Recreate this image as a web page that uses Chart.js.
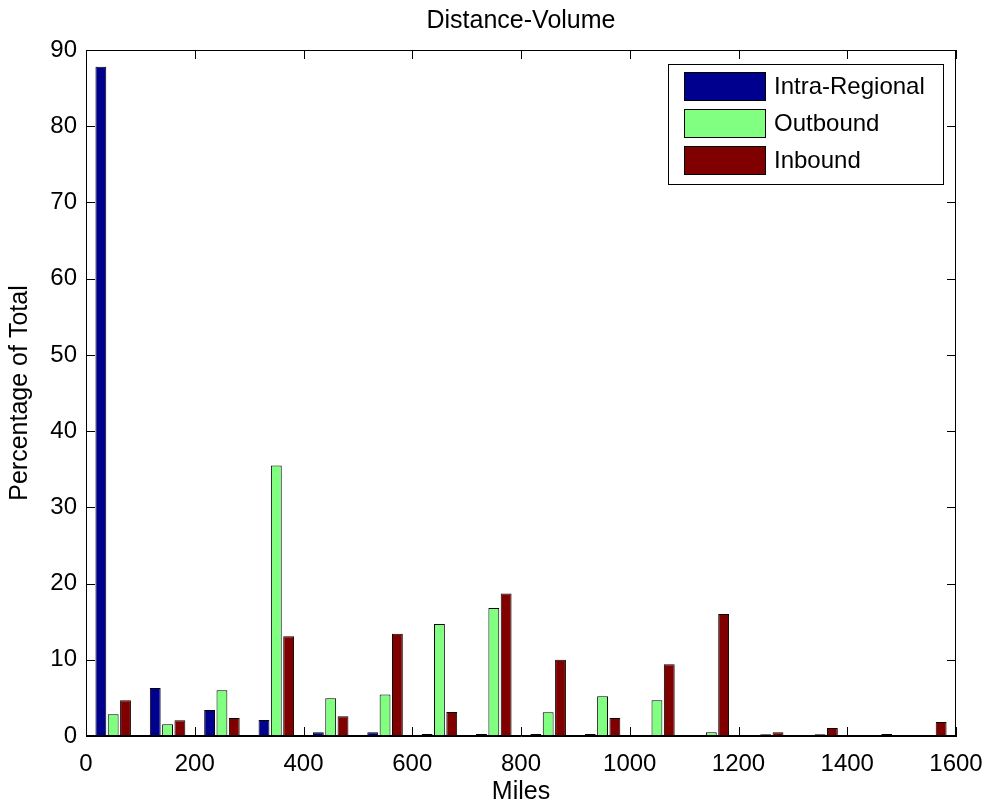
<!DOCTYPE html>
<html>
<head>
<meta charset="utf-8">
<title>Distance-Volume</title>
<script src="https://cdn.jsdelivr.net/npm/chart.js@4.4.0/dist/chart.umd.min.js"></script>
<style>
    html, body { margin: 0; padding: 0; background: #fff; }
    #wrap { width: 985px; height: 807px; }
</style>
</head>
<body>
<div id="wrap"><canvas id="chart" width="985" height="807"></canvas></div>
<script>
// bin centres in miles
const binCenters = [50, 150, 250, 350, 450, 550, 650, 750, 850, 950, 1050, 1150, 1250, 1350, 1450, 1550];

// percentage of total per bin
const intraRegional = [87.8, 6.3, 3.4, 2.1, 0.5, 0.5, 0.26, 0.26, 0.26, 0.26, 0, 0, 0, 0, 0, 0];
const outbound = [2.85, 1.55, 6.0, 35.5, 4.95, 5.45, 14.7, 16.8, 3.1, 5.2, 4.7, 0.5, 0.22, 0.22, 0, 0];
const inbound = [4.7, 2.05, 2.35, 13.1, 2.6, 13.4, 3.15, 18.7, 10.0, 2.35, 9.4, 16.0, 0.5, 1.05, 0.26, 1.85];

const xTicks = [0, 200, 400, 600, 800, 1000, 1200, 1400, 1600];
const yTicks = [0, 10, 20, 30, 40, 50, 60, 70, 80, 90];

const seriesNames = ['Intra-Regional', 'Outbound', 'Inbound'];
const seriesColors = ['#00008f', '#80ff80', '#800000'];

const FONT = "'Liberation Sans', Arial, Helvetica, sans-serif";
const tickLen = 9;

function toPoints(values) {
    return values.map((v, i) => ({ x: binCenters[i], y: v }));
}

// box around the axes, inward ticks on all four sides, and the legend
const matlabAxes = {
    id: 'matlabAxes',
    afterDatasetsDraw(chart) {
        const { ctx, chartArea: a, scales: { x, y } } = chart;
        ctx.save();
        ctx.strokeStyle = '#000';
        ctx.lineWidth = 1;
        ctx.beginPath();
        xTicks.forEach(v => {
            const px = Math.round(x.getPixelForValue(v)) + 0.5;
            ctx.moveTo(px, a.bottom);
            ctx.lineTo(px, a.bottom - tickLen);
            ctx.moveTo(px, a.top);
            ctx.lineTo(px, a.top + tickLen);
        });
        yTicks.forEach(v => {
            const py = Math.round(y.getPixelForValue(v)) + 0.5;
            ctx.moveTo(a.left, py);
            ctx.lineTo(a.left + tickLen, py);
            ctx.moveTo(a.right, py);
            ctx.lineTo(a.right - tickLen, py);
        });
        ctx.stroke();
        ctx.strokeRect(Math.round(a.left) + 0.5, Math.round(a.top) + 0.5,
            Math.round(a.width) - 1, Math.round(a.height) - 1);

        // legend
        const bx = a.right - 288, by = a.top + 14, bw = 275, bh = 120;
        ctx.fillStyle = '#fff';
        ctx.fillRect(bx, by, bw, bh);
        ctx.strokeRect(bx + 0.5, by + 0.5, bw, bh);
        ctx.font = '24px ' + FONT;
        ctx.textBaseline = 'middle';
        ctx.textAlign = 'left';
        chart.data.datasets.forEach((ds, i) => {
            const sy = by + 8 + i * 37;
            ctx.fillStyle = ds.backgroundColor;
            ctx.fillRect(bx + 16, sy, 81, 28);
            ctx.strokeRect(bx + 16.5, sy + 0.5, 81, 28);
            ctx.fillStyle = '#000';
            ctx.fillText(ds.label, bx + 106, sy + 15);
        });
        ctx.restore();
    }
};

const ctx = document.getElementById('chart').getContext('2d');
const datasets = [intraRegional, outbound, inbound].map((values, index) => ({
    label: seriesNames[index],
    data: toPoints(values),
    backgroundColor: seriesColors[index],
    borderColor: '#000',
    borderWidth: 1,
    borderSkipped: false,
    categoryPercentage: 0.68,
    barPercentage: 0.88
}));

const chart = new Chart(ctx, {
    type: 'bar',
    data: { datasets: datasets },
    options: {
        responsive: false,
        animation: false,
        events: [],
        layout: { padding: { left: 0, right: 29, top: 0, bottom: 0 } },
        plugins: {
            legend: { display: false },
            tooltip: { enabled: false },
            title: {
                display: true,
                fullSize: false,
                text: 'Distance-Volume',
                color: '#000',
                font: { family: FONT, size: 25, weight: 'normal', lineHeight: 1.2 },
                padding: { top: 6, bottom: 14 }
            }
        },
        scales: {
            x: {
                type: 'linear',
                min: 0,
                max: 1600,
                offset: false,
                afterBuildTicks: scale => { scale.ticks = xTicks.map(v => ({ value: v })); },
                afterFit: scale => {
                    scale.height = 71;
                    scale.paddingLeft = 0;
                    scale.paddingRight = 0;
                },
                grid: { display: false, drawTicks: false },
                border: { display: true, color: '#000', width: 1 },
                ticks: {
                    color: '#000',
                    padding: 14,
                    maxRotation: 0,
                    font: { family: FONT, size: 24 },
                    callback: v => String(v)
                },
                title: {
                    display: true,
                    text: 'Miles',
                    color: '#000',
                    font: { family: FONT, size: 25, lineHeight: 1.2 },
                    padding: { top: 0, bottom: 0 }
                }
            },
            y: {
                min: 0,
                max: 90,
                afterBuildTicks: scale => { scale.ticks = yTicks.map(v => ({ value: v })); },
                afterFit: scale => {
                    scale.width = 86;
                    scale.paddingTop = 0;
                    scale.paddingBottom = 0;
                },
                grid: { display: false, drawTicks: false },
                border: { display: true, color: '#000', width: 1 },
                ticks: { color: '#000', padding: 9, font: { family: FONT, size: 24 } },
                title: {
                    display: true,
                    text: 'Percentage of Total',
                    color: '#000',
                    font: { family: FONT, size: 25, lineHeight: 1.2 },
                    padding: { top: 5, bottom: 0 }
                }
            }
        }
    },
    plugins: [matlabAxes]
});
</script>
</body>
</html>
